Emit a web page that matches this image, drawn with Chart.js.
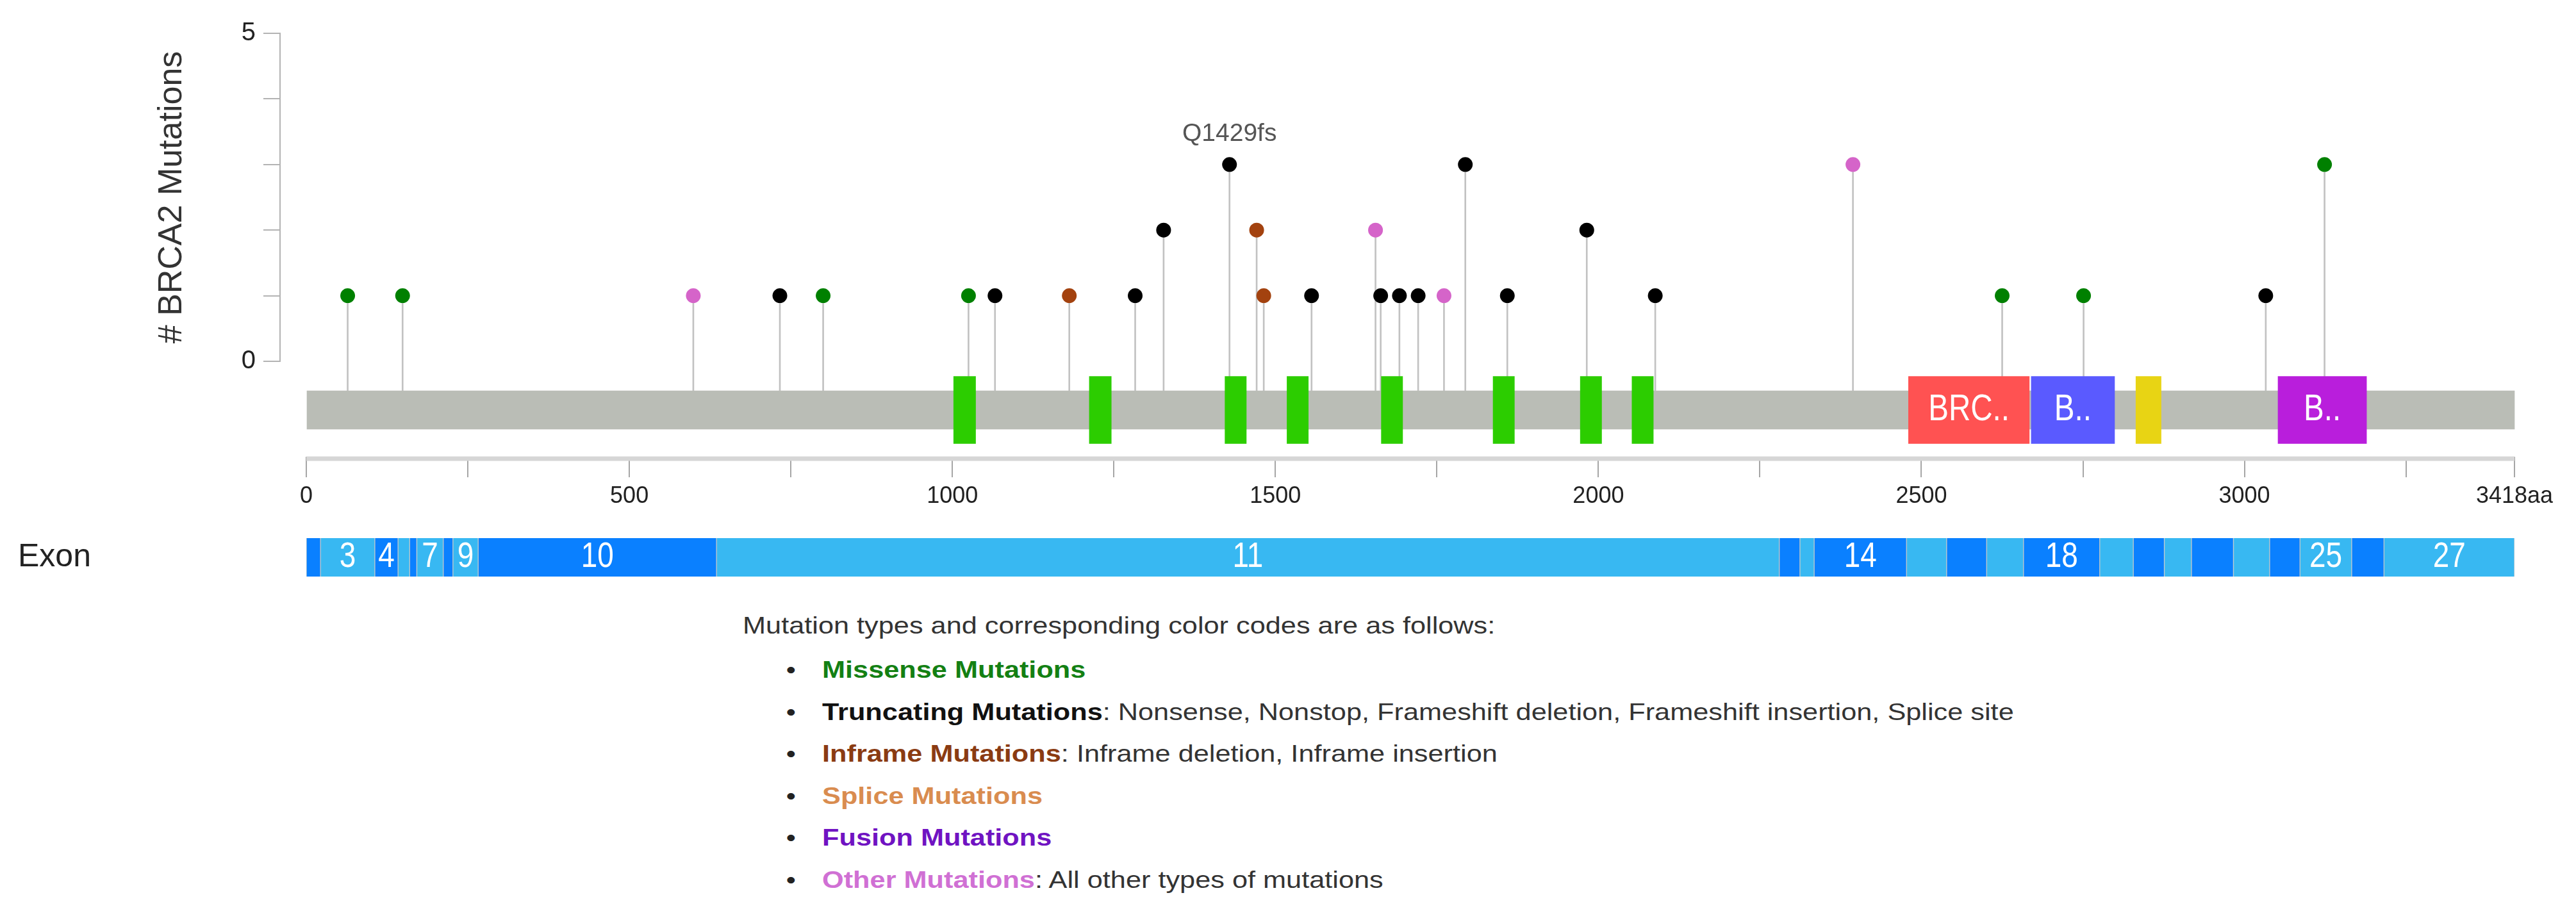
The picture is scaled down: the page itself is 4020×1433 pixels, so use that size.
<!DOCTYPE html>
<html>
<head>
<meta charset="utf-8">
<script src="https://cdn.jsdelivr.net/npm/chart.js@4.4.1/dist/chart.umd.min.js"></script>
<style>
  html, body { margin: 0; padding: 0; background: #fff; }
  body { width: 4020px; height: 1433px; position: relative; overflow: hidden;
         font-family: "Liberation Sans", Arial, sans-serif; }
  #track { position: absolute; left: 0; top: 0; }
  #exons { position: absolute; left: 0; top: 810px; }
  #legend { position: absolute; left: 1159px; top: 952px; font-size: 37px; color: #333;
            transform: scaleX(1.17); transform-origin: 0 0; white-space: nowrap; }
  #legend .head { line-height: 50px; }
  #legend ul { list-style: none; margin: 11px 0 0 0; padding: 0; }
  #legend li { position: relative; height: 65.6px; line-height: 65.6px; padding-left: 106px; }
  #legend li::before { content: '\2022'; position: absolute; left: 58px; color: #222; }
</style>
</head>
<body>
<canvas id="track" width="4020" height="810"></canvas>
<canvas id="exons" width="4020" height="120"></canvas>
<div id="legend">
  <div class="head">Mutation types and corresponding color codes are as follows:</div>
  <ul id="legendList"></ul>
</div>
<script>
const proteinLength = 3418;

// mutations (amino-acid position, count, type)
const mutPositions = [64, 149, 599, 733, 800, 1025, 1066, 1181, 1283, 1327, 1429, 1471, 1482, 1556,
                      1655, 1663, 1692, 1721, 1761, 1794, 1859, 1982, 2088, 2394, 2625, 2751, 3033, 3124];
const mutCounts = [1, 1, 1, 1, 1, 1, 1, 1, 1, 2, 3, 2, 1, 1,
                   2, 1, 1, 1, 1, 3, 1, 2, 1, 3, 1, 1, 1, 3];
const mutTypes = ['missense', 'missense', 'other', 'truncating', 'missense', 'missense', 'truncating',
                  'inframe', 'truncating', 'truncating', 'truncating', 'inframe', 'inframe', 'truncating',
                  'other', 'truncating', 'truncating', 'truncating', 'other', 'truncating', 'truncating',
                  'truncating', 'truncating', 'other', 'missense', 'missense', 'truncating', 'missense'];
const mutLabels = ['', '', '', '', '', '', '', '', '', '', 'Q1429fs', '', '', '',
                   '', '', '', '', '', '', '', '', '', '', '', '', '', ''];
const typeColors = { missense: '#008000', truncating: '#000000', inframe: '#a3420f', other: '#d564c9' };

// protein domains
const domainStarts = [1002, 1212, 1422, 1518, 1664, 1837, 1972, 2052, 2480, 2670, 2832, 3052];
const domainEnds   = [1036, 1246, 1455, 1551, 1697, 1870, 2005, 2085, 2667, 2799, 2871, 3189];
const domainLabels = ['', '', '', '', '', '', '', '', 'BRC..', 'B..', '', 'B..'];
const domainColors = ['#2ccd00', '#2ccd00', '#2ccd00', '#2ccd00', '#2ccd00', '#2ccd00', '#2ccd00', '#2ccd00',
                      '#ff5252', '#5a5aff', '#e8d414', '#b91edc'];

// exons
const exonNumbers = [2, 3, 4, 5, 6, 7, 8, 9, 10, 11, 12, 13, 14, 15, 16, 17, 18, 19, 20, 21, 22, 23, 24, 25, 26, 27];
const exonStarts = [0, 22, 106, 142, 160, 171, 212, 227, 266, 635, 2280, 2312, 2334, 2477, 2539, 2601, 2658,
                    2776, 2828, 2876, 2918, 2983, 3039, 3086, 3166, 3216];
const exonEnds = [22, 106, 142, 160, 171, 212, 227, 266, 635, 2280, 2312, 2334, 2477, 2539, 2601, 2658, 2776,
                  2828, 2876, 2918, 2983, 3039, 3086, 3166, 3216, 3418];
const exonLabels = ['', '3', '4', '', '', '7', '', '9', '10', '11', '', '', '14', '', '', '', '18',
                    '', '', '', '', '', '', '25', '', '27'];

const xTickValues = [0, 250, 500, 750, 1000, 1250, 1500, 1750, 2000, 2250, 2500, 2750, 3000, 3250, 3418];

// legend
const legendNames = ['Missense Mutations', 'Truncating Mutations', 'Inframe Mutations', 'Splice Mutations',
                     'Fusion Mutations', 'Other Mutations'];
const legendNotes = ['', 'Nonsense, Nonstop, Frameshift deletion, Frameshift insertion, Splice site',
                     'Inframe deletion, Inframe insertion', '', '', 'All other types of mutations'];
const legendColors = ['#138013', '#111111', '#8a3b12', '#d98c4f', '#7013c2', '#d070d4'];

const X_MIN = -40.7;      // y axis sits a little left of residue 0
const TRACK_Y = -0.742;   // protein bar centre, in count units below 0
const SANS = '"Liberation Sans", Arial, sans-serif';

Chart.defaults.font.family = SANS;

// narrow white text: Liberation Sans squeezed horizontally
function narrowText(ctx, text, x, y, size) {
    ctx.save();
    ctx.translate(x, y);
    ctx.scale(0.82, 1);
    ctx.font = size + 'px ' + SANS;
    ctx.fillText(text, 0, 0);
    ctx.restore();
}

const trackDecor = {
    id: 'trackDecor',
    afterDatasetsDraw(chart) {
        const { ctx, chartArea } = chart;
        const x = chart.scales.x;
        ctx.save();
        // axis line
        ctx.strokeStyle = '#d6d6d6';
        ctx.lineWidth = 7;
        ctx.beginPath();
        ctx.moveTo(x.getPixelForValue(0), chartArea.bottom + 3);
        ctx.lineTo(x.getPixelForValue(proteinLength), chartArea.bottom + 3);
        ctx.stroke();
        ctx.textAlign = 'center';
        ctx.textBaseline = 'middle';
        // domain names
        ctx.fillStyle = '#fff';
        chart.getDatasetMeta(1).data.forEach((el, i) => {
            if (!domainLabels[i]) return;
            const c = el.getCenterPoint();
            narrowText(ctx, domainLabels[i], c.x, c.y, 58);
        });
        // mutation labels
        ctx.fillStyle = '#555';
        ctx.font = '39px ' + SANS;
        chart.getDatasetMeta(0).data.forEach((el, i) => {
            if (mutLabels[i]) ctx.fillText(mutLabels[i], el.x, el.y - 48);
        });
        ctx.restore();
    }
};

new Chart(document.getElementById('track'), {
    type: 'bar',
    data: {
        datasets: [
            {
                type: 'scatter',
                label: 'mutations',
                data: mutPositions.map((p, i) => ({ x: p, y: mutCounts[i] })),
                yAxisID: 'y',
                pointRadius: 11.5,
                pointBackgroundColor: mutTypes.map(t => typeColors[t]),
                pointBorderWidth: 0,
                clip: false,
                order: 0
            },
            {
                type: 'bar',
                label: 'domains',
                indexAxis: 'y',
                yAxisID: 'yp',
                data: domainStarts.map((s, i) => ({ x: [s, domainEnds[i]], y: TRACK_Y })),
                backgroundColor: domainColors,
                barThickness: 105,
                grouped: false,
                clip: false,
                order: 1
            },
            {
                type: 'bar',
                label: 'protein',
                indexAxis: 'y',
                yAxisID: 'yp',
                data: [{ x: [0, proteinLength], y: TRACK_Y }],
                backgroundColor: '#babdb6',
                barThickness: 60,
                grouped: false,
                clip: false,
                order: 2
            },
            {
                type: 'bar',
                label: 'stems',
                yAxisID: 'y',
                data: mutPositions.map((p, i) => ({ x: p, y: [TRACK_Y, mutCounts[i]] })),
                backgroundColor: '#c2c2c2',
                barThickness: 2,
                grouped: false,
                clip: false,
                order: 3
            }
        ]
    },
    options: {
        responsive: false,
        animation: false,
        events: [],
        layout: { padding: { left: 0, top: 52, right: 96, bottom: 0 } },
        plugins: { legend: { display: false }, tooltip: { enabled: false } },
        scales: {
            x: {
                type: 'linear',
                position: 'bottom',
                min: X_MIN,
                max: proteinLength,
                offset: false,
                afterBuildTicks: s => { s.ticks = xTickValues.map(v => ({ value: v })); },
                afterFit: s => { s.height = 97; },
                border: { display: false },
                grid: { offset: false, drawOnChartArea: false, drawTicks: true, tickLength: 32, color: '#a6a6a6', lineWidth: 2 },
                ticks: {
                    autoSkip: false, maxRotation: 0, padding: 8, color: '#222', font: { size: 36 },
                    callback: v => v === proteinLength ? proteinLength + 'aa' : (v % 500 === 0 ? String(v) : '')
                }
            },
            // listed before y so that the stacked left axes put y on top
            yp: {
                type: 'linear',
                position: 'left',
                stack: 'track',
                stackWeight: 149,
                min: -1.455,
                max: 0,
                offset: false,
                display: false,
                grid: { offset: false }
            },
            y: {
                type: 'linear',
                position: 'left',
                stack: 'track',
                stackWeight: 512,
                min: 0,
                max: 5,
                afterFit: s => { s.width = 437; },
                border: { color: '#b3b3b3', width: 2 },
                grid: { drawOnChartArea: false, tickLength: 26, color: '#b3b3b3', lineWidth: 2 },
                ticks: {
                    stepSize: 1, padding: 12, color: '#222', font: { size: 40 },
                    callback: v => (v === 0 || v === 5) ? String(v) : ''
                },
                title: {
                    display: true, text: '# BRCA2 Mutations', color: '#333',
                    font: { size: 52 }, padding: { top: 237, bottom: 0 }
                }
            }
        }
    },
    plugins: [trackDecor]
});

const exonText = {
    id: 'exonText',
    afterDatasetsDraw(chart) {
        const { ctx } = chart;
        ctx.save();
        ctx.fillStyle = '#fff';
        ctx.textAlign = 'center';
        ctx.textBaseline = 'middle';
        chart.getDatasetMeta(0).data.forEach((el, i) => {
            if (!exonLabels[i]) return;
            const c = el.getCenterPoint();
            narrowText(ctx, exonLabels[i], c.x, c.y, 56);
        });
        ctx.restore();
    }
};

new Chart(document.getElementById('exons'), {
    type: 'bar',
    data: {
        labels: ['Exon'],
        datasets: [{
            label: 'exons',
            data: exonStarts.map((s, i) => ({ x: [s, exonEnds[i]], y: 'Exon' })),
            backgroundColor: exonNumbers.map(n => n % 2 === 0 ? '#0a80ff' : '#38b8f2'),
            borderColor: 'rgba(185,195,200,0.9)',
            borderWidth: 1,
            borderSkipped: false,
            barThickness: 64,
            grouped: false
        }]
    },
    options: {
        indexAxis: 'y',
        responsive: false,
        animation: false,
        events: [],
        layout: { padding: { left: 28, top: 26, right: 96, bottom: 30 } },
        plugins: { legend: { display: false }, tooltip: { enabled: false } },
        scales: {
            x: { type: 'linear', min: X_MIN, max: proteinLength, display: false },
            y: {
                type: 'category',
                afterFit: s => { s.width = 409; },
                border: { display: false },
                grid: { display: false },
                ticks: { crossAlign: 'far', padding: 0, color: '#222', font: { size: 50 } }
            }
        }
    },
    plugins: [exonText]
});

// legend list
const list = document.getElementById('legendList');
legendNames.forEach((name, i) => {
    const li = document.createElement('li');
    const b = document.createElement('b');
    b.textContent = name;
    b.style.color = legendColors[i];
    li.appendChild(b);
    if (legendNotes[i]) li.appendChild(document.createTextNode(': ' + legendNotes[i]));
    list.appendChild(li);
});
</script>
</body>
</html>
